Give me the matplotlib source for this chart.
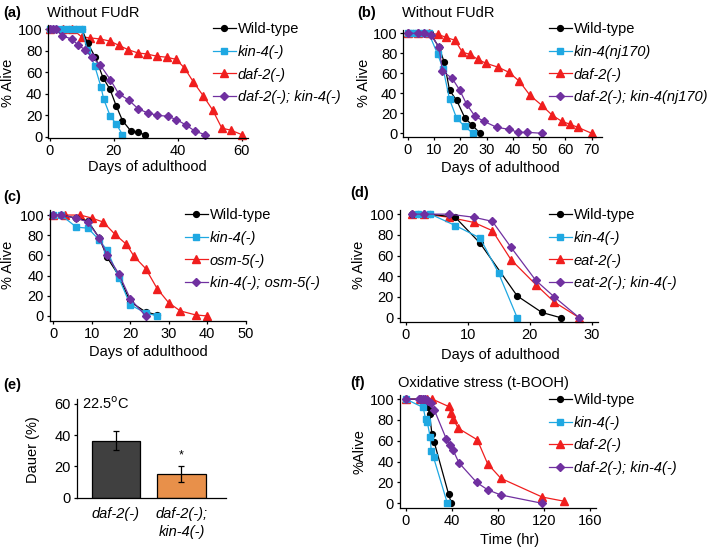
import matplotlib

# Use non-interactive backend
matplotlib.use("Agg")

import matplotlib.pyplot as plt
from matplotlib.lines import Line2D

plt.rcParams["font.family"] = ["Liberation Sans", "DejaVu Sans"]
plt.rcParams["font.size"] = 10.5

W, H = 709, 551

# ------------------ data ------------------

# (a) without FUdR
a_wt_x = [0, 2, 4, 6, 8, 10, 11.8, 14.2, 16.6, 18.8, 20.7, 22.7, 25.4, 27.5, 29.6]
a_wt_y = [100, 100, 100, 100, 100, 100, 87, 74, 55, 44, 29, 15, 5, 4, 2]
a_kin_x = [0, 2, 4, 6, 8, 10, 11.7, 14, 16, 16.8, 18.9, 20.7, 22.7]
a_kin_y = [100, 100, 100, 100, 100, 100, 81, 66, 46, 35, 19, 12, 2]
a_daf_x = [0, 4, 7, 9.9, 12.5, 15.7, 18.8, 21.6, 24.5, 27.5, 30.3, 33.4, 36.5,
           39.5, 42.1, 44.9, 48, 50.9, 53.8, 56.7, 60]
a_daf_y = [100, 100, 100, 93, 92, 91, 89, 85, 81, 78, 77, 75, 74,
           72, 64, 51, 38, 25, 8, 6, 2]
a_dk_x = [0, 1, 2, 3.7, 6.8, 8.9, 11, 13.1, 15.7, 18.9, 21.5, 24.7, 27.6,
          30.7, 33.6, 36.8, 39.6, 42.5, 45.5, 48.5]
a_dk_y = [100, 100, 100, 94, 91, 85, 81, 74, 67, 53, 40, 34, 26,
          22, 20, 19, 16, 11, 5, 2]

# (b) without FUdR, nj170 allele
b_wt_x = [0, 2, 4, 6, 8.5, 11.9, 13.9, 15.9, 18.6, 21.8, 24.6, 27.5]
b_wt_y = [100, 100, 100, 100, 100, 86, 71, 43, 33, 15, 8, 0]
b_kin_x = [0, 2, 4, 6, 8, 11.4, 13.5, 15.9, 18.6, 21.6, 24.8]
b_kin_y = [100, 100, 100, 100, 100, 79, 64, 34, 15, 7, 0]
b_daf_x = [0, 4, 8, 11.5, 14.5, 18, 20.8, 23.7, 26.6, 29.8, 34.5, 38.5,
           42.5, 46.5, 51, 55, 58.6, 61.8, 64.7, 70]
b_daf_y = [100, 100, 100, 99, 96, 93, 81, 79, 74, 70, 66, 61,
           52, 38, 28, 18, 12, 9, 6, 0]
b_dk_x = [0, 4, 6, 9, 11.9, 13.2, 16.9, 19.8, 22.4, 25.6, 29, 33.8, 38.5,
          42, 45.5, 51]
b_dk_y = [100, 100, 100, 98, 86, 62, 55, 43, 29, 17, 12, 6, 4, 1, 1, 0]

# (c) osm-5
c_wt_x = [0, 2, 6, 9, 12, 14, 17, 20, 24, 27]
c_wt_y = [100, 100, 97, 94, 77, 58, 40, 14, 4, 1]
c_kin_x = [0, 2, 6, 9, 12, 14, 17, 20, 24, 27]
c_kin_y = [100, 100, 88, 87, 75, 65, 38, 11, 3, 0]
c_osm_x = [0, 3, 7, 10, 13, 16, 19, 21, 24, 27, 30, 33, 37, 40]
c_osm_y = [100, 100, 100, 97, 93, 81, 71, 59, 47, 27, 13, 5, 1, 0]
c_ko_x = [0, 2, 6, 9, 12, 14, 17, 20, 24]
c_ko_y = [100, 100, 97, 93, 77, 60, 42, 17, 0]

# (d) eat-2
d_wt_x = [1, 2, 4, 8, 12, 18, 22, 25]
d_wt_y = [100, 100, 100, 97, 72, 21, 5, 0]
d_kin_x = [2, 4, 8, 12, 15, 18]
d_kin_y = [100, 100, 89, 77, 43, 0]
d_eat_x = [1, 3, 7, 11, 14, 17, 21, 24, 28]
d_eat_y = [100, 100, 97, 92, 84, 56, 32, 15, 0]
d_ek_x = [1, 3, 7, 11, 14, 17, 21, 24, 28]
d_ek_y = [100, 100, 100, 97, 93, 68, 36, 20, 0]

# (e) dauer formation
e_labels = ["daf-2(-)", "daf-2(-);\nkin-4(-)"]
e_values = [36.5, 15]
e_errors = [6, 5]

# (f) oxidative stress
f_wt_x = [0, 12, 16, 19, 20.5, 22.5, 24.5, 37, 39.5]
f_wt_y = [100, 100, 100, 92, 86, 67, 59, 9, 0]
f_kin_x = [0, 15, 17, 18.5, 21, 22, 24, 36]
f_kin_y = [100, 92, 81, 78, 64, 50, 44, 0]
f_daf_x = [0, 12, 18, 23, 37, 39, 41, 45.5, 62, 71, 82.5, 118.5, 137.5]
f_daf_y = [100, 100, 100, 100, 93, 87, 81, 72, 61, 38, 24, 6, 2]
f_dk_x = [0, 11, 13, 15, 16.5, 18, 19.5, 21.5, 24.5, 35, 38, 41, 46,
          61.5, 71, 82.5, 118.5]
f_dk_y = [100, 100, 100, 100, 100, 99, 98, 96, 90, 62, 56, 51, 39,
          20, 13, 8, 0]

# ------------------ styles ------------------

BLACK = "black"
CYAN = "#1FA8E2"
RED = "#F01E1E"
PURPLE = "#7030A0"

STYLE = {
    "wt": dict(color=BLACK, marker="o", ms=4.2),
    "kin": dict(color=CYAN, marker="s", ms=4.6),
    "mut": dict(color=RED, marker="^", ms=5.6),
    "dbl": dict(color=PURPLE, marker="D", ms=4.2),
}


def px_rect(l, t, r, b):
    return [l / W, 1 - b / H, (r - l) / W, (b - t) / H]


def px(x, y):
    return x / W, 1 - y / H


def style_axes(ax):
    ax.spines["top"].set_visible(False)
    ax.spines["right"].set_visible(False)
    ax.spines["left"].set_linewidth(0.9)
    ax.spines["bottom"].set_linewidth(0.9)
    ax.tick_params(direction="out", length=2.5, width=0.9, pad=1.8,
                   labelsize=10.5)


def survival_panel(fig, rect, series, labels, xlim, ylim, xticks,
                   legend_at, ylabel, ylabel_at, xlabel, xlabel_at):
    ax = fig.add_axes(rect)
    style_axes(ax)
    # draw order: single mutant, wild-type, kin-4, double mutant on top
    for key in ["mut", "wt", "kin", "dbl"]:
        x, y = series[key]
        ax.plot(x, y, lw=0.9, mec=STYLE[key]["color"], clip_on=False,
                **STYLE[key])
    ax.set_xlim(xlim)
    ax.set_ylim(ylim)
    ax.set_xticks(xticks)
    ax.set_yticks([0, 20, 40, 60, 80, 100])

    handles = [Line2D([], [], lw=0.9, **STYLE[k]) for k in ["wt", "kin", "mut", "dbl"]]
    leg = ax.legend(handles, labels, loc="upper left",
                    bbox_to_anchor=px(*legend_at),
                    bbox_transform=fig.transFigure, frameon=False,
                    handlelength=1.55, handletextpad=0.15, labelspacing=0.6,
                    borderpad=0, borderaxespad=0, fontsize=10.5)
    for i, t in enumerate(leg.get_texts()):
        if i > 0:
            t.set_style("italic")

    fig.text(*px(*ylabel_at), ylabel, rotation=90, ha="center", va="center")
    fig.text(*px(*xlabel_at), xlabel, ha="center", va="center")
    return ax


fig = plt.figure(figsize=(W / 100, H / 100), dpi=100)

# (a)
survival_panel(
    fig, px_rect(48.3, 25, 248, 138),
    {"wt": (a_wt_x, a_wt_y), "kin": (a_kin_x, a_kin_y),
     "mut": (a_daf_x, a_daf_y), "dbl": (a_dk_x, a_dk_y)},
    ["Wild-type", "kin-4(-)", "daf-2(-)", "daf-2(-); kin-4(-)"],
    (-0.53, 62), (-1.2, 104), [0, 20, 40, 60],
    (213, 22), "% Alive", (8.5, 83), "Days of adulthood", (147, 167))
fig.text(*px(3, 13), "(a)", fontweight="bold", va="center")
fig.text(*px(47, 13), "Without FUdR", va="center")

# (b)
survival_panel(
    fig, px_rect(403.3, 30, 601.7, 137.3),
    {"wt": (b_wt_x, b_wt_y), "kin": (b_kin_x, b_kin_y),
     "mut": (b_daf_x, b_daf_y), "dbl": (b_dk_x, b_dk_y)},
    ["Wild-type", "kin-4(nj170)", "daf-2(-)", "daf-2(-); kin-4(nj170)"],
    (-1.7, 73.8), (-4, 103.3), list(range(0, 71, 10)),
    (549, 22), "% Alive", (363.5, 83), "Days of adulthood", (500, 168))
fig.text(*px(357, 13), "(b)", fontweight="bold", va="center")
fig.text(*px(402, 13), "Without FUdR", va="center")

# (c)
survival_panel(
    fig, px_rect(50, 210, 245.7, 320.7),
    {"wt": (c_wt_x, c_wt_y), "kin": (c_kin_x, c_kin_y),
     "mut": (c_osm_x, c_osm_y), "dbl": (c_ko_x, c_ko_y)},
    ["Wild-type", "kin-4(-)", "osm-5(-)", "kin-4(-); osm-5(-)"],
    (-0.86, 50), (-4.7, 105), list(range(0, 51, 10)),
    (185, 208), "% Alive", (8.5, 265), "Days of adulthood", (148, 352))
fig.text(*px(3, 197), "(c)", fontweight="bold", va="center")

# (d)
survival_panel(
    fig, px_rect(400, 210, 597.7, 321.7),
    {"wt": (d_wt_x, d_wt_y), "kin": (d_kin_x, d_kin_y),
     "mut": (d_eat_x, d_eat_y), "dbl": (d_ek_x, d_ek_y)},
    ["Wild-type", "kin-4(-)", "eat-2(-)", "eat-2(-); kin-4(-)"],
    (-0.92, 31), (-3.9, 104), [0, 10, 20, 30],
    (549, 208), "% Alive", (359, 265), "Days of adulthood", (500, 355))
fig.text(*px(350, 193), "(d)", fontweight="bold", va="center")

# (e)
ax = fig.add_axes(px_rect(76.7, 399.3, 226, 497.7))
style_axes(ax)
ax.bar([0, 1], e_values, width=0.74, color=["#404040", "#E8904A"],
       edgecolor="black", linewidth=0.9, zorder=2)
ax.errorbar([0, 1], e_values, yerr=e_errors, fmt="none", ecolor="black",
            elinewidth=0.9, capsize=2, capthick=0.9, zorder=3)
ax.text(1, 27, "*", ha="center", va="center", fontsize=9)
ax.text(-0.52, 60, "22.5$^{\\rm o}$C", ha="left", va="center")
ax.set_xlim(-0.6, 1.68)
ax.set_ylim(0, 63)
ax.set_yticks([0, 20, 40, 60])
ax.set_xticks([0, 1])
ax.set_xticklabels(e_labels, style="italic", linespacing=1.35)
ax.tick_params(axis="x", length=0, pad=7)
fig.text(*px(33, 450), "Dauer (%)", rotation=90, ha="center", va="center")
fig.text(*px(3, 385), "(e)", fontweight="bold", va="center")

# (f)
survival_panel(
    fig, px_rect(400, 395, 595.7, 508.3),
    {"wt": (f_wt_x, f_wt_y), "kin": (f_kin_x, f_kin_y),
     "mut": (f_daf_x, f_daf_y), "dbl": (f_dk_x, f_dk_y)},
    ["Wild-type", "kin-4(-)", "daf-2(-)", "daf-2(-); kin-4(-)"],
    (-5.2, 165), (-4.8, 104), [0, 40, 80, 120, 160],
    (549, 393), "%Alive", (359, 452), "Time (hr)", (510, 540))
fig.text(*px(350, 383), "(f)", fontweight="bold", va="center")
fig.text(*px(398, 383), "Oxidative stress (t-BOOH)", va="center")

fig.savefig("out.png", dpi=100)
plt.close(fig)
